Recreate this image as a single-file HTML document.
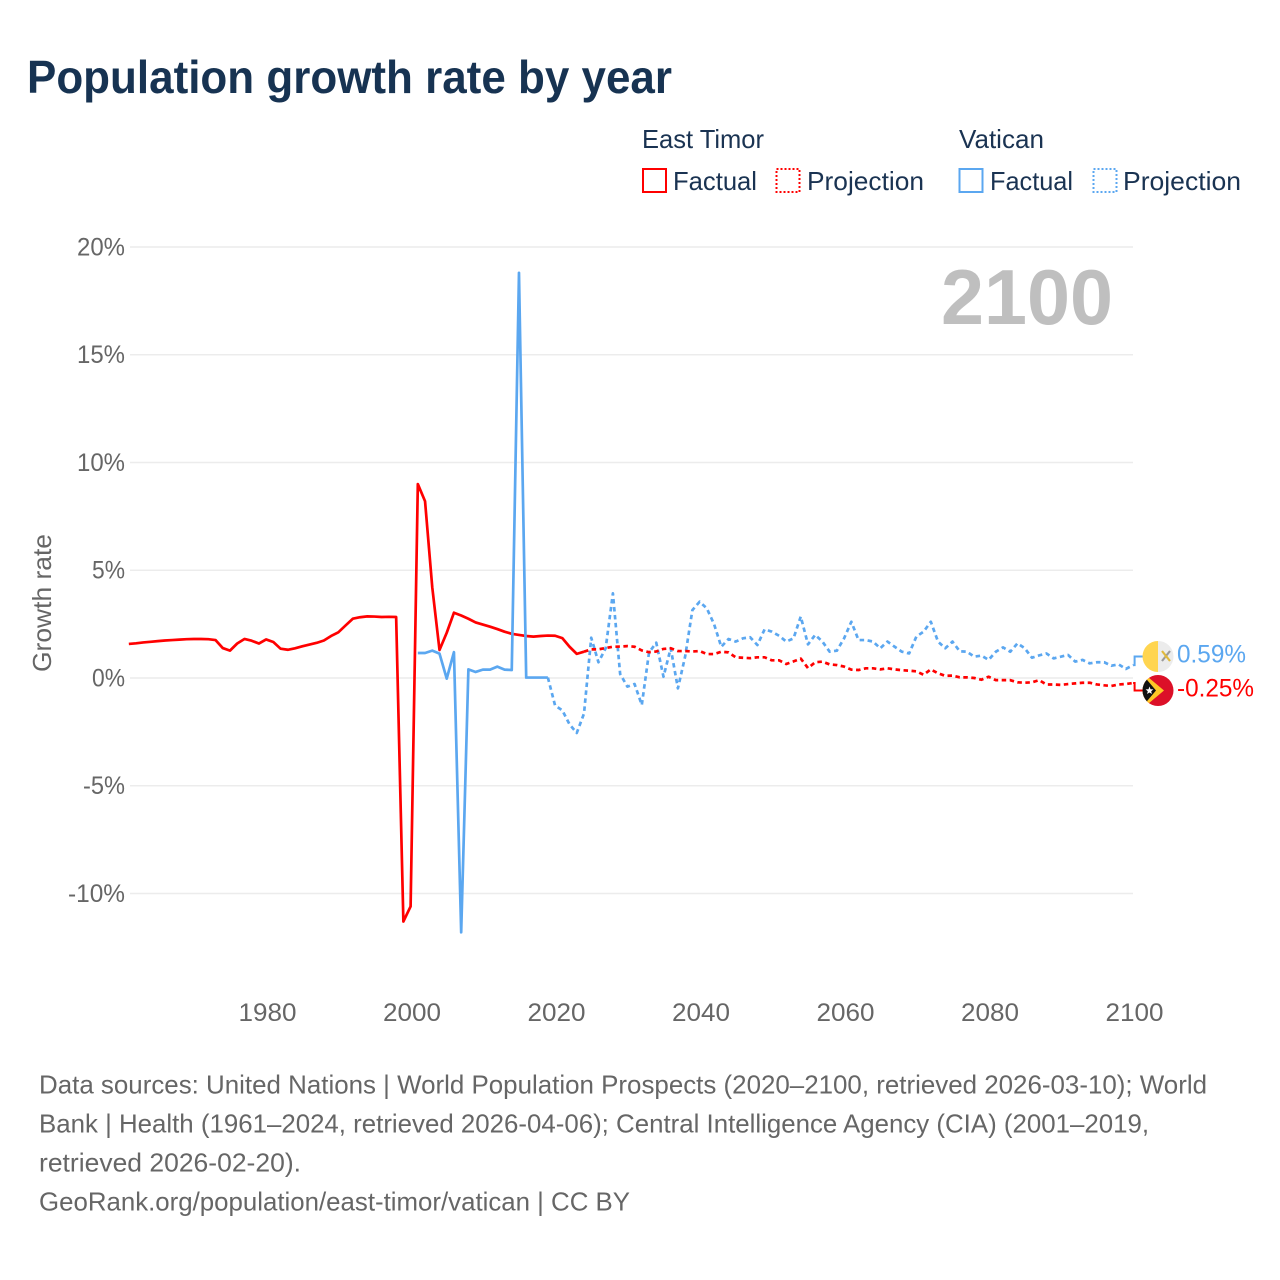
<!DOCTYPE html>
<html lang="en">
<head>
<meta charset="utf-8">
<title>Population growth rate by year</title>
<style>
html,body{margin:0;padding:0;background:#fff;}
svg{display:block;font-family:"Liberation Sans",sans-serif;}
</style>
</head>
<body>
<svg id="chart" xmlns="http://www.w3.org/2000/svg" width="1280" height="1280" viewBox="0 0 1280 1280">
  <defs>
    <clipPath id="flag-clip-vatican"><circle cx="1158" cy="656.5" r="15.5"/></clipPath>
    <clipPath id="flag-clip-timor"><circle cx="1158" cy="690.5" r="15.5"/></clipPath>
  </defs>
  <rect width="1280" height="1280" fill="#fff"/>
  <text x="27" y="93" font-size="46" font-weight="700" fill="#173352" textLength="645" lengthAdjust="spacingAndGlyphs">Population growth rate by year</text>

  <g font-size="26" fill="#1a3352">
    <text x="642" y="148" textLength="122" lengthAdjust="spacingAndGlyphs">East Timor</text>
    <rect x="643" y="169" width="23" height="23" fill="none" stroke="#ff0000" stroke-width="2"/>
    <text x="673" y="190" textLength="84" lengthAdjust="spacingAndGlyphs">Factual</text>
    <rect x="776.5" y="169" width="23" height="23" fill="none" stroke="#ff0000" stroke-width="2" stroke-dasharray="2 2"/>
    <text x="807" y="190" textLength="117" lengthAdjust="spacingAndGlyphs">Projection</text>
    <text x="959" y="148" textLength="85" lengthAdjust="spacingAndGlyphs">Vatican</text>
    <rect x="959.5" y="169" width="23" height="23" fill="none" stroke="#5ba7f0" stroke-width="2"/>
    <text x="990" y="190" textLength="83" lengthAdjust="spacingAndGlyphs">Factual</text>
    <rect x="1093.5" y="169" width="23" height="23" fill="none" stroke="#5ba7f0" stroke-width="2" stroke-dasharray="2 2"/>
    <text x="1123" y="190" textLength="118" lengthAdjust="spacingAndGlyphs">Projection</text>
  </g>

  <g id="grid"></g>
  <g id="yticks" font-size="25" fill="#666"></g>
  <g id="xticks" font-size="25" fill="#666"></g>
  <text transform="translate(51,603) rotate(-90)" text-anchor="middle" font-size="26" fill="#666" textLength="138" lengthAdjust="spacingAndGlyphs">Growth rate</text>
  <text x="941" y="324" font-size="78" font-weight="700" fill="#bfbfbf" textLength="172" lengthAdjust="spacingAndGlyphs">2100</text>

  <g id="series"></g>

  <g clip-path="url(#flag-clip-vatican)">
    <rect x="1142" y="641" width="16" height="31" fill="#ffd550"/>
    <rect x="1158" y="641" width="16" height="31" fill="#ececec"/>
    <path d="M1162 651l8 10" stroke="#e0b93c" stroke-width="2.2"/>
    <path d="M1170 651l-8 10" stroke="#9a9a9a" stroke-width="2.2"/>
    <circle cx="1166" cy="656.5" r="1.5" fill="#e0b93c"/>
  </g>
  <g clip-path="url(#flag-clip-timor)">
    <rect x="1142" y="675" width="32" height="31" fill="#dc1028"/>
    <path d="M1142 672L1164 690.5L1142 709Z" fill="#ffc726"/>
    <path d="M1142 674L1156 690.5L1142 707Z" fill="#111"/>
    <path d="M1149.5 686.5l1 2.7 2.9.2-2.2 1.8.7 2.8-2.4-1.5-2.4 1.5.7-2.8-2.2-1.8 2.9-.2z" fill="#fff"/>
  </g>
  <g id="endlabels" font-size="25"></g>

  <g font-size="26" fill="#666">
    <text x="39" y="1093.3" textLength="1168" lengthAdjust="spacingAndGlyphs">Data sources: United Nations | World Population Prospects (2020–2100, retrieved 2026-03-10); World</text>
    <text x="39" y="1132.3" textLength="1110" lengthAdjust="spacingAndGlyphs">Bank | Health (1961–2024, retrieved 2026-04-06); Central Intelligence Agency (CIA) (2001–2019,</text>
    <text x="39" y="1171.3" textLength="262" lengthAdjust="spacingAndGlyphs">retrieved 2026-02-20).</text>
    <text x="39" y="1210.3" textLength="591" lengthAdjust="spacingAndGlyphs">GeoRank.org/population/east-timor/vatican | CC BY</text>
  </g>
</svg>
<script>
const yTickValues = [20, 15, 10, 5, 0, -5, -10];
const yTickLabels = ["20%", "15%", "10%", "5%", "0%", "-5%", "-10%"];
const xTickYears = [1980, 2000, 2020, 2040, 2060, 2080, 2100];
const timorFactualStart = 1961;
const timorFactual = [1.58,1.61,1.65,1.68,1.71,1.74,1.76,1.78,1.8,1.81,1.81,1.8,
  1.76,1.39,1.27,1.6,1.81,1.73,1.6,1.79,1.67,1.36,1.31,
  1.38,1.47,1.55,1.63,1.74,1.95,2.12,2.44,2.75,
  2.82,2.86,2.85,2.83,2.84,2.83,
  -11.3,-10.6,9.0,8.2,4.2,1.3,2.1,3.03,
  2.9,2.75,2.58,2.48,2.38,2.27,2.15,2.05,2.0,1.95,1.92,1.95,1.97,1.96,1.85,1.45,1.12,1.22];
const timorProjectionStart = 2024;
const timorProjection = [1.22,1.33,1.33,1.39,1.45,1.46,1.48,1.45,1.28,1.2,1.23,1.35,1.38,1.25,1.25,1.23,1.25,1.11,1.11,1.22,1.19,
  0.96,0.94,0.92,0.96,0.96,0.82,0.82,0.65,0.77,0.9,0.46,0.73,0.76,0.63,0.6,0.53,0.39,0.37,0.45,0.45,0.4,0.45,0.4,0.36,0.34,0.31,0.15,0.4,0.22,
  0.1,0.11,0.03,0.03,0.0,-0.08,0.06,-0.1,-0.1,-0.1,-0.2,-0.22,-0.2,-0.1,-0.3,-0.3,-0.32,-0.28,-0.25,-0.22,-0.22,-0.3,-0.34,-0.37,-0.3,-0.28,-0.23];
const vaticanFactualStart = 2001;
const vaticanFactual = [1.16,1.16,1.27,1.13,-0.03,1.2,-11.8,0.4,0.28,0.39,0.39,0.53,0.39,0.37,18.8,0.02,0.02,0.02,0.02];
const vaticanProjectionStart = 2019;
const vaticanProjection = [0.02,-1.28,-1.5,-2.15,-2.55,-1.65,1.87,0.73,1.38,3.93,0.19,-0.4,-0.28,-1.25,1.18,1.64,0.06,1.38,-0.48,1.0,3.15,3.54,3.23,2.5,1.45,1.81,1.69,1.84,1.89,1.53,
  2.26,2.15,1.96,1.69,1.84,2.85,1.56,2.0,1.69,1.22,1.27,1.84,2.61,1.76,1.76,1.69,1.38,1.69,1.45,1.22,1.14,1.92,2.15,2.61,1.69,1.38,
  1.69,1.24,1.22,0.99,1.04,0.84,1.22,1.42,1.22,1.61,1.38,0.94,1.05,1.14,0.91,0.99,1.07,0.76,0.84,0.68,0.73,0.73,0.57,0.63,0.42,0.6];
const endLabelVatican = "0.59%";
const endLabelTimor = "-0.25%";

const SVG_NS = "http://www.w3.org/2000/svg";
const RED = "#ff0000", BLUE = "#5ba7f0";
function xScale(year) { return 410.6 + (year - 2000) * 7.225; }
function yScale(v) { return 678 - v * 21.55; }
function node(tag, attrs, parent) {
  const el = document.createElementNS(SVG_NS, tag);
  for (const k in attrs) el.setAttribute(k, attrs[k]);
  parent.appendChild(el);
  return el;
}
function linePath(start, values) {
  return values.map((v, i) => (i ? "L" : "M") + xScale(start + i).toFixed(2) + " " + yScale(v).toFixed(2)).join("");
}
function yLabelWidth(label) {
  const digits = label.replace(/[^0-9]/g, "").length;
  return digits * 15 + 18 + (label.charAt(0) === "-" ? 9 : 0);
}

const gridG = document.getElementById("grid");
const yG = document.getElementById("yticks");
const xG = document.getElementById("xticks");
const seriesG = document.getElementById("series");
const endG = document.getElementById("endlabels");

yTickValues.forEach((v, i) => {
  const gl = node("line", {x1: 130, x2: 1133, y1: yScale(v), y2: yScale(v), stroke: "#ececec", "stroke-width": 1.5}, gridG);
  
  
  const t = node("text", {x: 125, y: yScale(v) + 8.3, "text-anchor": "end"}, yG);
  
  
  t.setAttribute("textLength", yLabelWidth(yTickLabels[i]));
  t.setAttribute("lengthAdjust", "spacingAndGlyphs");
  t.textContent = yTickLabels[i];
});
xTickYears.forEach(year => {
  const t = node("text", {x: xScale(year) + 1.4, y: 1021, "text-anchor": "middle", textLength: 58, lengthAdjust: "spacingAndGlyphs"}, xG);
  
  
  t.textContent = year;
});

const common = {fill: "none", "stroke-width": 2.7, "stroke-linejoin": "round"};
const redFactualLine = node("path", Object.assign({d: linePath(timorFactualStart, timorFactual), stroke: RED}, common), seriesG);


const blueFactualLine = node("path", Object.assign({d: linePath(vaticanFactualStart, vaticanFactual), stroke: BLUE}, common), seriesG);


const blueProjectionLine = node("path", Object.assign({d: linePath(vaticanProjectionStart, vaticanProjection), stroke: BLUE, "stroke-dasharray": "4.5 3.5"}, common), seriesG);


const redProjectionLine = node("path", Object.assign({d: linePath(timorProjectionStart, timorProjection), stroke: RED, "stroke-dasharray": "4.5 3.5"}, common), seriesG);



const xEnd = xScale(2100);
const blueLead = node("path", {d: "M" + xEnd + " " + yScale(vaticanProjection[vaticanProjection.length - 1]) + "H" + (xEnd + 1.5) + "V656.5H1143", fill: "none", stroke: BLUE, "stroke-width": 2}, seriesG);


const redLead = node("path", {d: "M" + xEnd + " " + yScale(timorProjection[timorProjection.length - 1]) + "H" + (xEnd + 1.5) + "V690.5H1143", fill: "none", stroke: RED, "stroke-width": 2}, seriesG);



const vaticanLabel = node("text", {x: 1177, y: 662.5, fill: BLUE, textLength: 69, lengthAdjust: "spacingAndGlyphs"}, endG);


vaticanLabel.textContent = endLabelVatican;
const timorLabel = node("text", {x: 1177, y: 696.5, fill: RED, textLength: 77, lengthAdjust: "spacingAndGlyphs"}, endG);


timorLabel.textContent = endLabelTimor;
</script>
</body>
</html>
